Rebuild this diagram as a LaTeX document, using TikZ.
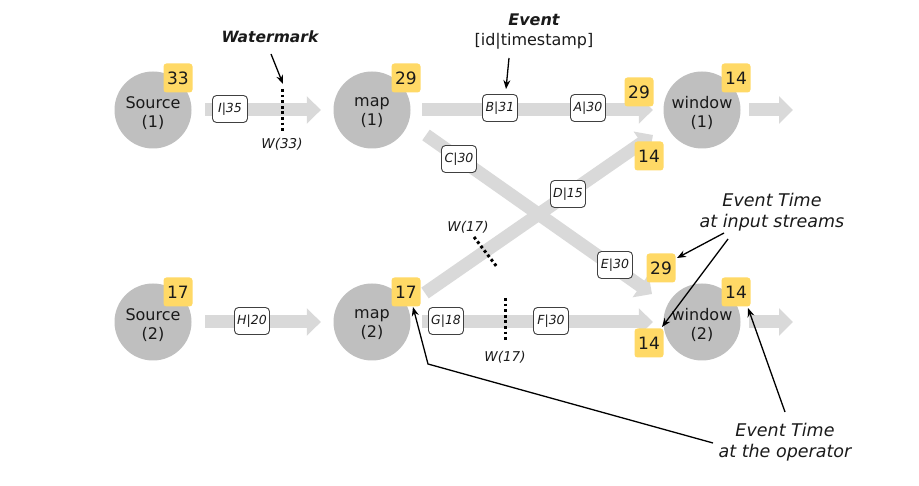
\documentclass[tikz,border=0pt]{standalone}
\usepackage{fontspec}
\setmainfont{DejaVu Sans}
\usetikzlibrary{arrows.meta}
\definecolor{circ}{HTML}{BFBFBF}
\definecolor{badgecol}{HTML}{FFD966}
\definecolor{bandcol}{HTML}{D9D9D9}
\definecolor{txt}{HTML}{1A1A1A}
\begin{document}
\begin{tikzpicture}[x=1pt,y=-1pt,
  op/.style={circle,fill=circ,minimum size=77pt,inner sep=0pt},
  optext/.style={align=center,text=txt,yshift=-3pt,font=\fontsize{16}{19}\selectfont},
  badgebox/.style={fill=badgecol,rounded corners=3pt,minimum width=29pt,minimum height=29pt,
    inner sep=0pt,text=txt,font=\fontsize{17}{17}\selectfont},
  fat/.style={draw=bandcol,line width=13pt,-{Triangle[length=14pt,width=27pt]}},
  evbox/.style={draw=black!75,fill=white,rounded corners=4pt,minimum width=35pt,
    minimum height=27pt,inner sep=0pt,line width=0.9pt,text=txt,
    font=\fontsize{12.5}{12.5}\selectfont\itshape},
  wmline/.style={line width=3pt,dash pattern=on 2.8pt off 2.8pt},
  wmlabel/.style={text=txt,font=\fontsize{13.5}{14}\selectfont\itshape},
  note/.style={draw,line width=1.3pt,-{Stealth[length=9pt,width=7pt]}},
  notetext/.style={align=center,text=txt,font=\fontsize{17.5}{21.5}\selectfont\itshape},
  titletext/.style={text=txt,font=\fontsize{16}{16}\selectfont\bfseries\itshape}
]
\useasboundingbox (0,0) rectangle (919,486);
\fill[white] (0,0) rectangle (919,486);

% operators
\node[op,label={[optext]center:{Source\\(1)}}] (s1) at (153,110) {};
\node[op,label={[optext]center:{map\\(1)}}] (m1) at (372,110) {};
\node[op,label={[optext]center:{window\\(1)}}] (w1) at (702,110) {};
\node[op,label={[optext]center:{Source\\(2)}}] (s2) at (153,322) {};
\node[op,label={[optext]center:{map\\(2)}}] (m2) at (372,322) {};
\node[op,label={[optext]center:{window\\(2)}}] (w2) at (702,322) {};

% streams
\coordinate (o1) at (793,110);
\coordinate (o2) at (793,322);
\coordinate (d1s) at (426,135);
\coordinate (d1e) at (652,294);
\coordinate (d2s) at (425,293);
\coordinate (d2e) at (653,135);
\draw[fat,shorten <=13.5pt,shorten >=12.5pt] (s1) -- (m1);
\draw[fat,shorten <=11.5pt,shorten >=10.5pt] (m1) -- (w1);
\draw[fat,shorten <=8.5pt] (w1) -- (o1);
\draw[fat,shorten <=13.5pt,shorten >=12.5pt] (s2) -- (m2);
\draw[fat,shorten <=11.5pt,shorten >=10.5pt] (m2) -- (w2);
\draw[fat,shorten <=8.5pt] (w2) -- (o2);
\draw[fat] (d1s) -- (d1e);
\draw[fat] (d2s) -- (d2e);

% events
\node[evbox] (eI) at (230,109) {I|35};
\node[evbox] (eB) at (500,108) {B|31};
\node[evbox] (eA) at (588,108) {A|30};
\node[evbox] (eC) at (459,159) {C|30};
\node[evbox] (eD) at (568,194) {D|15};
\node[evbox] (eE) at (615,265) {E|30};
\node[evbox] (eG) at (446,321) {G|18};
\node[evbox] (eF) at (551,321) {F|30};
\node[evbox] (eH) at (252,321) {H|20};

% watermarks
\coordinate (wa1) at (282,89);  \coordinate (wa2) at (282,133);
\coordinate (wb1) at (474,237); \coordinate (wb2) at (497,267);
\coordinate (wc1) at (505,298); \coordinate (wc2) at (505,342);
\draw[wmline] (wa1) -- (wa2);
\draw[wmline] (wb1) -- (wb2);
\draw[wmline] (wc1) -- (wc2);
\node[wmlabel] (lwa) at (282,144) {W(33)};
\node[wmlabel] (lwb) at (468,227) {W(17)};
\node[wmlabel] (lwc) at (505,357) {W(17)};

% badges
\node[badgebox] (bs1) at (178,78) {33};
\node[badgebox] (bm1) at (406,78) {29};
\node[badgebox] (bw1) at (736,78) {14};
\node[badgebox] (bi1) at (639,92) {29};
\node[badgebox] (bi2) at (649,156) {14};
\node[badgebox] (bi3) at (661,268) {29};
\node[badgebox] (bw2) at (736,292) {14};
\node[badgebox] (bi4) at (649,343) {14};
\node[badgebox] (bs2) at (178,292) {17};
\node[badgebox] (bm2) at (406,292) {17};

% annotations
\node[titletext,font=\fontsize{15.5}{16}\selectfont\bfseries\itshape] (wmk) at (270,37) {Watermark};
\node[titletext] (evt) at (534,20) {Event};
\node[text=txt,font=\fontsize{16}{16}\selectfont] (evf) at (534,41) {[id|timestamp]};
\node[notetext] (eti) at (772,212) {Event Time\\at input streams};
\node[notetext,font=\fontsize{17.5}{21}\selectfont\itshape] (eto) at (785,442) {Event Time\\at the operator};

\coordinate (n1a) at (271,54);  \coordinate (n1b) at (283,84);
\coordinate (n2a) at (509,58);  \coordinate (n2b) at (506,89);
\coordinate (n3a) at (724,233); \coordinate (n3b) at (677,258);
\coordinate (n4a) at (728,239); \coordinate (n4b) at (662,327);
\coordinate (n5a) at (785,412); \coordinate (n5b) at (748,308);
\coordinate (n6a) at (713,443); \coordinate (n6m) at (428,364); \coordinate (n6b) at (413,307);
\draw[note] (n1a) -- (n1b);
\draw[note] (n2a) -- (n2b);
\draw[note] (n3a) -- (n3b);
\draw[note] (n4a) -- (n4b);
\draw[note] (n5a) -- (n5b);
\draw[note] (n6a) -- (n6m) -- (n6b);
\end{tikzpicture}
\end{document}
